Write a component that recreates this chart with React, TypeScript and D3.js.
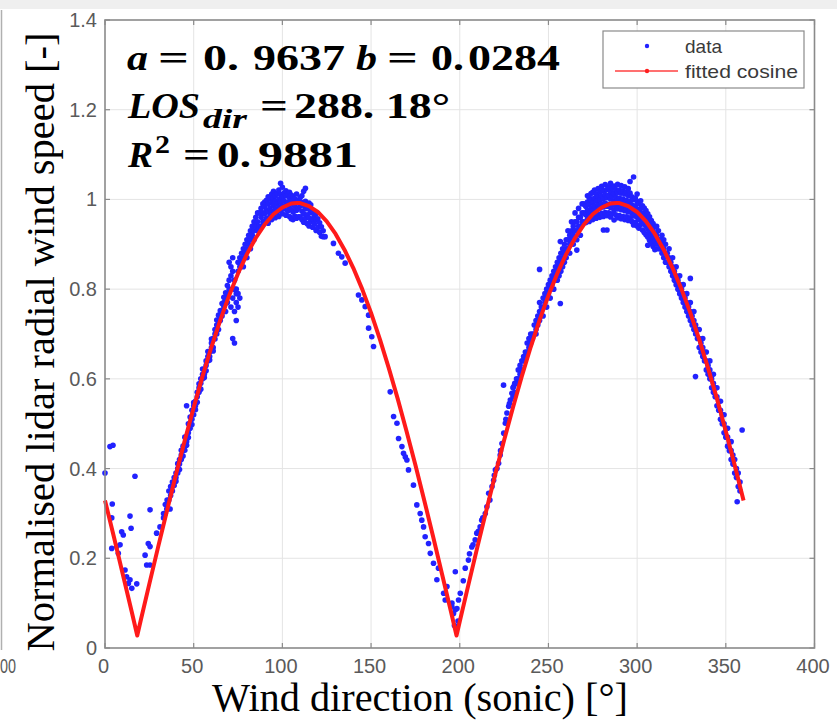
import React from 'react';
import * as d3 from 'd3';

const W = 837;
const H = 721;

const xTicks = [0, 50, 100, 150, 200, 250, 300, 350, 400];
const xTickLabels = ['0', '50', '100', '150', '200', '250', '300', '350', '400'];
const yTicks = [0, 0.2, 0.4, 0.6, 0.8, 1, 1.2, 1.4];
const yTickLabels = ['0', '0.2', '0.4', '0.6', '0.8', '1', '1.2', '1.4'];

// fitted cosine
const fitX = [0, 5, 10, 15, 18.18, 20, 25, 30, 35, 40, 45, 50, 55, 60, 65, 70, 75, 80, 85, 90, 95, 100, 105, 108.18, 110, 115, 120, 125, 130, 135, 140, 145, 150, 155, 160, 165, 170, 175, 180, 185, 190, 195, 198.18, 200, 205, 210, 215, 220, 225, 230, 235, 240, 245, 250, 255, 260, 265, 270, 275, 280, 285, 288.18, 290, 295, 300, 305, 310, 315, 320, 325, 330, 335, 340, 345, 350, 355, 360];
const fitY = [0.329, 0.248, 0.165, 0.082, 0.028, 0.059, 0.143, 0.226, 0.307, 0.387, 0.463, 0.536, 0.606, 0.671, 0.731, 0.786, 0.835, 0.878, 0.914, 0.944, 0.967, 0.982, 0.991, 0.992, 0.992, 0.985, 0.972, 0.951, 0.923, 0.888, 0.847, 0.8, 0.747, 0.688, 0.624, 0.556, 0.483, 0.408, 0.329, 0.248, 0.165, 0.082, 0.028, 0.059, 0.143, 0.226, 0.307, 0.387, 0.463, 0.536, 0.606, 0.671, 0.731, 0.786, 0.835, 0.878, 0.914, 0.944, 0.967, 0.982, 0.991, 0.992, 0.992, 0.985, 0.972, 0.951, 0.923, 0.888, 0.847, 0.8, 0.747, 0.688, 0.624, 0.556, 0.483, 0.408, 0.329];

// data points: rows of [wind direction, normalised speed readings...]
const sparseLow = [[0, 0.39], [2.8, 0.449], [4.5, 0.452], [4.1, 0.321], [3.8, 0.29], [9.4, 0.259], [10.3, 0.252], [14.1, 0.294], [14.7, 0.267], [16.9, 0.383], [3.8, 0.222], [6.6, 0.226], [8.5, 0.23], [7.5, 0.211], [11.3, 0.174], [12.2, 0.159], [14.1, 0.152], [15.1, 0.133], [13.2, 0.144], [17.9, 0.143], [22.6, 0.207], [24.4, 0.233], [25.4, 0.226], [23.5, 0.185], [25.4, 0.185], [25.4, 0.308], [29.1, 0.256], [31, 0.27], [33, 0.3], [34.8, 0.31], [36.7, 0.31]];

const rise1 = [[33, 0.29], [34, 0.3, 0.32], [35, 0.33], [36, 0.33, 0.35], [37, 0.34, 0.36], [38, 0.37, 0.35], [39, 0.38, 0.37, 0.362], [40, 0.39, 0.38, 0.372], [41, 0.4, 0.39, 0.411], [42, 0.41, 0.42, 0.398], [43, 0.43, 0.42, 0.441], [44, 0.44, 0.45, 0.428], [45, 0.45, 0.47, 0.441], [46, 0.47, 0.46, 0.54, 0.452], [47, 0.48, 0.5, 0.469], [48, 0.5, 0.49, 0.515], [49, 0.51, 0.53, 0.498], [50, 0.52, 0.54, 0.547], [51, 0.55, 0.54, 0.531], [52, 0.56, 0.57, 0.548], [53, 0.58, 0.57, 0.589], [54, 0.59, 0.6, 0.577], [55, 0.6, 0.61, 0.622], [56, 0.62, 0.61, 0.603], [57, 0.63, 0.64, 0.618], [58, 0.64, 0.65, 0.661], [59, 0.66, 0.65, 0.642], [60, 0.67, 0.68, 0.689], [61, 0.69, 0.67, 0.662], [62, 0.7, 0.71, 0.689], [63, 0.7, 0.72, 0.731], [64, 0.73, 0.71, 0.742], [65, 0.74, 0.73, 0.752], [66, 0.75, 0.74, 0.768], [67, 0.76, 0.77, 0.782], [68, 0.75, 0.78, 0.792], [69, 0.79, 0.77, 0.808], [70, 0.8, 0.82, 0.86], [71, 0.85, 0.83, 0.76], [72, 0.87, 0.84, 0.78, 0.69], [73, 0.68, 0.8, 0.82, 0.75], [74, 0.79, 0.77, 0.73, 0.8], [75, 0.79, 0.76, 0.84, 0.86], [76, 0.85, 0.87, 0.78], [77, 0.86, 0.88], [78, 0.87, 0.89, 0.85], [79, 0.88, 0.9], [80, 0.89, 0.91, 0.87], [81, 0.9, 0.92], [82, 0.91, 0.93, 0.89], [83, 0.92, 0.94], [84, 0.93, 0.95, 0.91], [85, 0.94, 0.96], [86, 0.93, 0.95, 0.97], [87, 0.97, 0.94], [88, 0.96, 0.98, 0.94], [89, 0.95, 0.97, 0.99]];

const peak1 = [[90, 0.952, 0.968, 0.985, 0.994], [91, 0.958, 0.976, 0.998], [92, 0.947, 0.972, 0.99, 1.006], [93, 0.963, 0.981, 1.002], [94, 0.955, 0.974, 0.993, 1.012], [95, 0.966, 0.987, 1.004, 1.018], [96, 0.959, 0.978, 0.996, 1.009], [97, 0.971, 0.99, 1.013], [98, 0.962, 0.983, 1.001, 1.021], [99, 0.975, 0.994, 1.011, 1.036], [100, 0.968, 0.986, 1.005, 1.027], [101, 0.979, 0.997, 1.015], [102, 0.965, 0.988, 1.008, 1.019], [103, 0.974, 0.993, 1.012], [104, 0.962, 0.981, 1.003, 1.016], [105, 0.957, 0.977, 0.995, 1.01], [106, 0.955, 0.972, 0.989, 1.007], [107, 0.963, 0.984, 1.001], [108, 0.958, 0.976, 0.994, 1.012], [109, 0.961, 0.981, 0.998], [110, 0.961, 0.986, 1.004], [111, 0.955, 0.974, 0.993, 1.008], [112, 0.949, 0.968, 0.987, 1.018], [113, 0.958, 0.979, 0.996, 1.025], [114, 0.946, 0.966, 0.985], [115, 0.941, 0.959, 0.978, 0.992], [116, 0.951, 0.971, 0.988], [117, 0.938, 0.957, 0.975], [118, 0.946, 0.965], [119, 0.931, 0.955, 0.968], [120, 0.938, 0.957], [121, 0.927, 0.948], [122, 0.918, 0.939], [123, 0.93, 0.917]];

const fall1 = [[124.1, 0.917], [128.8, 0.902], [131.6, 0.88], [133.5, 0.872], [135.4, 0.858], [142.9, 0.787], [144.8, 0.776], [146.7, 0.761], [148.6, 0.742, 0.713], [150.4, 0.694], [151.4, 0.672], [160.8, 0.571], [162.7, 0.516], [164.6, 0.501], [165.5, 0.467], [167.4, 0.449], [168.3, 0.434], [169.3, 0.426], [170.2, 0.419], [171.1, 0.397], [173.9, 0.363], [175.8, 0.319], [177.7, 0.3], [178.6, 0.285], [179.6, 0.27], [180.5, 0.248], [182.4, 0.233], [183.4, 0.211], [185.2, 0.189], [187.1, 0.152], [188, 0.178], [190.9, 0.122], [191.8, 0.107], [192.8, 0.137], [195.6, 0.092, 0.1], [196.5, 0.077], [197.5, 0.085, 0.17], [198.4, 0.088], [199.3, 0.107], [200.3, 0.122], [199, 0.06], [197, 0.05]];

const rise2 = [[202, 0.15], [203.1, 0.178], [204.9, 0.196], [205.5, 0.21], [206.8, 0.225], [207.5, 0.23], [208.7, 0.241], [209.6, 0.256], [210.5, 0.26], [211.5, 0.27], [212.4, 0.285], [213, 0.29], [214.4, 0.3], [215.3, 0.315], [216.3, 0.345], [217, 0.33], [218.2, 0.36], [219.1, 0.374], [219.5, 0.385], [220.1, 0.397], [221, 0.4], [221.9, 0.412], [222.8, 0.43], [223, 0.44], [223.8, 0.456], [224.7, 0.586], [224.8, 0.479], [225.7, 0.501], [226, 0.51], [226.6, 0.524], [227.6, 0.539], [228, 0.545], [228.5, 0.553], [229.4, 0.568], [230.4, 0.583],
  [230, 0.56, 0.58], [231, 0.57, 0.59], [232, 0.59, 0.6], [233, 0.6, 0.62], [234, 0.61, 0.63], [235, 0.62, 0.64], [236, 0.64, 0.65], [237, 0.65, 0.66], [238, 0.66, 0.68], [239, 0.67, 0.69], [240, 0.68, 0.7], [241, 0.69, 0.7], [242, 0.7, 0.72], [243, 0.71, 0.73, 0.7], [244, 0.72, 0.74], [245, 0.73, 0.75, 0.77, 0.844], [246, 0.75, 0.76], [247, 0.76, 0.78, 0.74], [248, 0.77, 0.79], [249, 0.78, 0.8, 0.76], [250, 0.79, 0.81], [251, 0.8, 0.82, 0.78], [252, 0.81, 0.83], [253, 0.82, 0.84, 0.8], [254, 0.83, 0.85], [255, 0.84, 0.86, 0.82], [256, 0.85, 0.87, 0.83], [256.7, 0.768, 0.906], [257, 0.86, 0.88, 0.84], [258, 0.87, 0.89, 0.85], [259, 0.88, 0.9, 0.86], [260, 0.89, 0.91, 0.87], [261, 0.89, 0.91, 0.93], [262, 0.9, 0.92, 0.88], [263, 0.91, 0.93, 0.95], [264, 0.92, 0.94, 0.9], [265, 0.93, 0.95, 0.97], [266, 0.93, 0.95, 0.91, 0.887], [267, 0.94, 0.96, 0.98], [268, 0.94, 0.96, 0.92], [269, 0.95, 0.97, 0.99], [270, 0.95, 0.97, 0.99]];

const peak2 = [[271, 0.948, 0.966, 0.985], [272, 0.957, 0.976, 0.994, 1.008], [273, 0.951, 0.969, 0.988, 1.004], [274, 0.962, 0.981, 0.999, 1.013], [275, 0.955, 0.974, 0.993, 1.016], [276, 0.964, 0.985, 1.003, 1.021], [277, 0.958, 0.977, 0.996, 1.012], [278, 0.967, 0.988, 1.006, 1.024], [279, 0.96, 0.981, 0.999, 1.017], [280, 0.969, 0.99, 1.008, 1.029], [281, 0.932, 0.962, 0.983, 1.002, 1.02], [282, 0.971, 0.992, 1.011, 1.033], [283, 0.932, 0.964, 0.985, 1.004, 1.022], [284, 0.97, 0.989, 1.009, 1.027], [285, 0.961, 0.982, 1.001, 1.018, 1.036], [286, 0.968, 0.987, 1.007, 1.025], [287, 0.954, 0.976, 0.995, 1.013, 1.03], [288, 0.966, 0.986, 1.005, 1.022], [289, 0.959, 0.979, 0.998, 1.016, 1.034], [290, 0.964, 0.984, 1.003, 1.021], [291, 0.957, 0.977, 0.996, 1.014, 1.031], [292, 0.962, 0.982, 1.001, 1.019], [293, 0.955, 0.975, 0.993, 1.012, 1.028], [294, 0.961, 0.98, 0.998, 1.016], [295, 0.953, 0.972, 0.991, 1.009, 1.024], [296, 0.959, 0.978, 0.996, 1.014, 1.04], [297, 0.951, 0.97, 0.988, 1.006], [298, 0.943, 0.963, 0.982, 1.0, 1.05], [299, 0.949, 0.968, 0.986, 1.003], [300, 0.941, 0.96, 0.978, 0.996, 1.012], [301, 0.936, 0.955, 0.973, 0.991], [302, 0.944, 0.962, 0.98, 0.997], [303, 0.932, 0.951, 0.969, 0.986], [304, 0.926, 0.945, 0.963, 0.981], [305, 0.921, 0.94, 0.958, 0.975], [306, 0.898, 0.916, 0.934, 0.952, 0.968], [307, 0.909, 0.927, 0.945, 0.961], [308, 0.902, 0.92, 0.937, 0.953], [309, 0.895, 0.913, 0.93, 0.946], [310, 0.888, 0.906, 0.923, 0.939]];

const fall2 = [[311, 0.9, 0.92, 0.94], [312, 0.89, 0.91, 0.93], [313, 0.89, 0.91], [314, 0.88, 0.9, 0.92], [315, 0.87, 0.89, 0.91], [316, 0.86, 0.88, 0.9], [317, 0.86, 0.88], [318, 0.85, 0.87, 0.89], [319, 0.84, 0.86], [320, 0.83, 0.85, 0.87], [321, 0.82, 0.84], [322, 0.81, 0.83, 0.85], [323, 0.8, 0.82], [324, 0.79, 0.81, 0.83], [325, 0.78, 0.8], [326, 0.77, 0.79, 0.81], [327, 0.76, 0.78], [328, 0.75, 0.77, 0.79], [329, 0.74, 0.76], [330, 0.73, 0.75, 0.77, 0.824], [331, 0.72, 0.74], [332, 0.71, 0.73, 0.75], [332.9, 0.605], [333, 0.7, 0.72], [334, 0.69, 0.71], [335, 0.67, 0.69, 0.71], [336, 0.66, 0.68], [337, 0.65, 0.67, 0.69], [338, 0.64, 0.66], [339, 0.62, 0.64, 0.66], [340, 0.61, 0.63], [341, 0.6, 0.62, 0.64], [342, 0.58, 0.6], [343, 0.57, 0.59, 0.61], [344, 0.56, 0.58], [345, 0.54, 0.56, 0.58], [346, 0.53, 0.55], [347, 0.51, 0.53, 0.55], [348, 0.5, 0.52], [349, 0.48, 0.5, 0.52], [350, 0.47, 0.49], [351, 0.45, 0.47, 0.49], [352, 0.44, 0.46], [353, 0.42, 0.44, 0.46], [354, 0.41, 0.43], [355, 0.39, 0.42], [356, 0.38, 0.4], [356.4, 0.326], [357, 0.36, 0.39], [358, 0.35, 0.37], [359.2, 0.486]];

const dataRows = [sparseLow, rise1, peak1, fall1, rise2, peak2, fall2];

const x = d3.scaleLinear().domain([0, 400]).range([105, 814.5]);
const y = d3.scaleLinear().domain([0, 1.4]).range([648, 20]);

const points: [number, number][] = [];
dataRows.forEach((rows) => rows.forEach((r) => r.slice(1).forEach((v) => points.push([r[0], v]))));

const fitLine = d3.line<number>().x((d, i) => x(fitX[i])).y((d) => y(d));

const SERIF = "'Liberation Serif', 'Times New Roman', serif";
const SANS = "'Liberation Sans', Arial, sans-serif";

export default function App() {
  const left = x(0), right = x(400), top = y(1.4), bottom = y(0);
  return (
    <svg width={W} height={H} viewBox={`0 0 ${W} ${H}`} style={{ position: 'absolute', left: 0, top: 0, background: '#fff' }}>
      <rect x={0} y={0} width={W} height={9} fill="#efefef" />
      <line x1={1.5} x2={1.5} y1={10} y2={650} stroke="#b0b0b0" strokeWidth={1.5} />
      <text x={0} y={673} fontFamily={SANS} fontSize={20} fill="#5a5a5a" textLength={16} lengthAdjust="spacingAndGlyphs">00</text>

      {/* grid */}
      {xTicks.slice(1, -1).map((t) => (
        <line key={'gx' + t} x1={x(t)} x2={x(t)} y1={top} y2={bottom} stroke="#e4e4e4" strokeWidth={1} />
      ))}
      {yTicks.slice(1, -1).map((t) => (
        <line key={'gy' + t} x1={left} x2={right} y1={y(t)} y2={y(t)} stroke="#e4e4e4" strokeWidth={1} />
      ))}

      {/* points */}
      <g fill="#2222ff">
        {points.map((p, i) => (
          <circle key={i} cx={x(p[0])} cy={y(p[1])} r={2.8} />
        ))}
      </g>

      {/* fitted cosine */}
      <path d={fitLine(fitY) || ''} fill="none" stroke="#ff1a1a" strokeWidth={4} strokeLinejoin="round" />

      {/* axes box and ticks */}
      <rect x={left} y={top} width={right - left} height={bottom - top} fill="none" stroke="#8a8a8a" strokeWidth={1.6} />
      {xTicks.map((t) => (
        <g key={'tx' + t}>
          <line x1={x(t)} x2={x(t)} y1={bottom} y2={bottom - 5} stroke="#8a8a8a" strokeWidth={1.2} />
          <line x1={x(t)} x2={x(t)} y1={top} y2={top + 5} stroke="#8a8a8a" strokeWidth={1.2} />
        </g>
      ))}
      {yTicks.map((t) => (
        <g key={'ty' + t}>
          <line x1={left} x2={left + 5} y1={y(t)} y2={y(t)} stroke="#8a8a8a" strokeWidth={1.2} />
          <line x1={right} x2={right - 5} y1={y(t)} y2={y(t)} stroke="#8a8a8a" strokeWidth={1.2} />
        </g>
      ))}
      {xTicks.map((t, i) => (
        <text key={'lx' + t} x={x(t) - 1.5} y={673} textAnchor="middle" fontFamily={SANS} fontSize={20} fill="#5a5a5a">{xTickLabels[i]}</text>
      ))}
      {yTicks.map((t, i) => (
        <text key={'ly' + t} x={97} y={y(t) + 7} textAnchor="end" fontFamily={SANS} fontSize={20} fill="#5a5a5a">{yTickLabels[i]}</text>
      ))}

      {/* axis titles */}
      <text x={420} y={711} textAnchor="middle" fontFamily={SERIF} fontSize={40} fill="#000" textLength={416} lengthAdjust="spacingAndGlyphs">Wind direction (sonic) [°]</text>
      <text transform={`translate(54,342) rotate(-90)`} textAnchor="middle" fontFamily={SERIF} fontSize={40} fill="#000" textLength={619} lengthAdjust="spacingAndGlyphs">Normalised lidar radial wind speed [-]</text>

      {/* annotations */}
      <g fontFamily={SERIF} fontWeight="bold" fontSize={36} fill="#000">
        <text x={127} y={70} fontStyle="italic" textLength={21} lengthAdjust="spacingAndGlyphs">a</text>
        <text x={158} y={70} textLength={31} lengthAdjust="spacingAndGlyphs">=</text>
        <text x={203} y={70} textLength={36} lengthAdjust="spacingAndGlyphs">0.</text>
        <text x={253} y={70} textLength={92} lengthAdjust="spacingAndGlyphs">9637</text>
        <text x={356} y={70} fontStyle="italic" textLength={21} lengthAdjust="spacingAndGlyphs">b</text>
        <text x={387} y={70} textLength={31} lengthAdjust="spacingAndGlyphs">=</text>
        <text x={431} y={70} textLength={33} lengthAdjust="spacingAndGlyphs">0.</text>
        <text x={468} y={70} textLength={92} lengthAdjust="spacingAndGlyphs">0284</text>

        <text x={128} y={118} fontStyle="italic" textLength={72} lengthAdjust="spacingAndGlyphs">LOS</text>
        <text x={203} y={128} fontStyle="italic" fontSize={27} textLength={44} lengthAdjust="spacingAndGlyphs">dir</text>
        <text x={260} y={118} textLength={28} lengthAdjust="spacingAndGlyphs">=</text>
        <text x={294} y={118} textLength={156} lengthAdjust="spacingAndGlyphs">288. 18°</text>

        <text x={128} y={167} fontStyle="italic" textLength={25} lengthAdjust="spacingAndGlyphs">R</text>
        <text x={155} y={153} fontSize={25} textLength={15} lengthAdjust="spacingAndGlyphs">2</text>
        <text x={183} y={167} textLength={27} lengthAdjust="spacingAndGlyphs">=</text>
        <text x={217} y={167} textLength={34} lengthAdjust="spacingAndGlyphs">0.</text>
        <text x={258} y={167} textLength={100} lengthAdjust="spacingAndGlyphs">9881</text>
      </g>

      {/* legend */}
      <rect x={603} y={31} width={201} height={57} fill="#fff" stroke="#8a8a8a" strokeWidth={1.2} />
      <circle cx={647} cy={46} r={2.2} fill="#2222ff" />
      <line x1={615} x2={678} y1={71} y2={71} stroke="#ff4040" strokeWidth={1.5} />
      <circle cx={647} cy={71} r={2.2} fill="#ff2020" />
      <text x={685} y={53} fontFamily={SANS} fontSize={19} fill="#3a3a3a">data</text>
      <text x={685} y={78} fontFamily={SANS} fontSize={19} fill="#3a3a3a" textLength={113} lengthAdjust="spacingAndGlyphs">fitted cosine</text>
    </svg>
  );
}
